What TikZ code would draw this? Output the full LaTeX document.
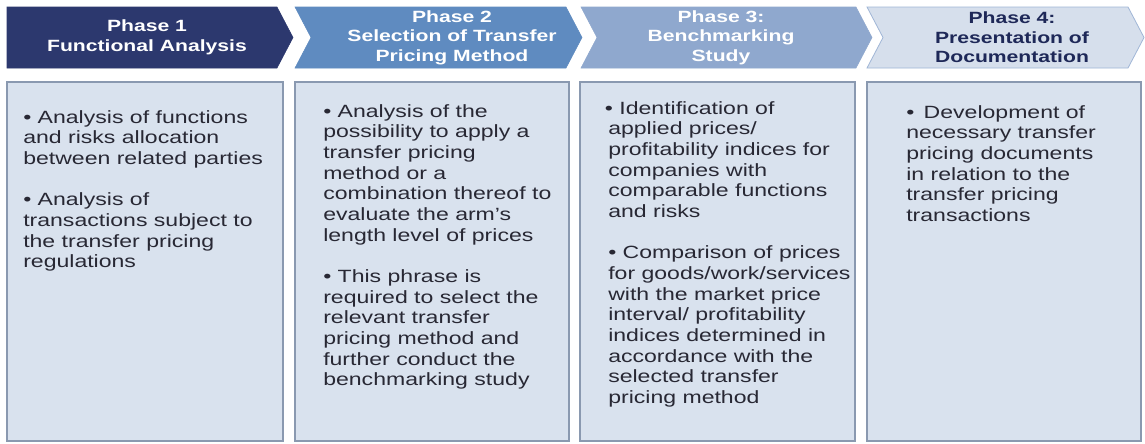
\documentclass[tikz,border=0pt]{standalone}
\usepackage{fontspec}
\setmainfont[FakeStretch=1.3]{Liberation Sans}
\usetikzlibrary{calc}
\definecolor{phaseA}{RGB}{44,56,110}
\definecolor{phaseB}{RGB}{95,139,192}
\definecolor{phaseC}{RGB}{143,168,206}
\definecolor{phaseD}{RGB}{214,223,236}
\definecolor{phaseDline}{RGB}{160,182,214}
\definecolor{boxfill}{RGB}{217,226,238}
\definecolor{boxline}{RGB}{138,153,176}
\definecolor{boxtext}{RGB}{40,40,52}
\definecolor{navytext}{RGB}{30,40,88}
\def\chevron[#1](#2:#3:#4){\filldraw[#1] (#2, 7) -- (#3, 7) -- (#3+16, 37.5) -- (#3, 68) -- (#2, 68) -- (#2+#4, 37.5) -- cycle;}
\tikzset{
	phasetext/.style={align=center, inner sep=0pt, font={\bfseries\fontsize{12.2}{14.6}\selectfont}},
	bullettext/.style={anchor=north west, align=left, inner sep=0pt, text=boxtext, font={\fontsize{13.3}{15.5}\selectfont}},
	phasebox/.style={fill=boxfill, draw=boxline, line width=0.8pt}
}

\begin{document}
\begin{tikzpicture}[x=0.75pt, y=-0.75pt]
			%%%%% START %%%%%
			
			\fill[white] (0, 0) rectangle (1145, 443);
			\useasboundingbox (0, 0) rectangle (1145, 443);
			
			\chevron[fill=phaseA, draw=phaseA](7:277:0)
			\chevron[fill=phaseB, draw=phaseB](295:566:16)
			\chevron[fill=phaseC, draw=phaseC](581:856:16)
			\chevron[fill=phaseD, draw=phaseDline, line width=0.6pt](867:1128:16)
			
			\node[phasetext, text=white] (ph1) at (147, 37.5) {Phase 1\\Functional Analysis};
			\node[phasetext, text=white] (ph2) at (452, 37.5) {Phase 2\\Selection of Transfer\\Pricing Method};
			\node[phasetext, text=white] (ph3) at (721, 37.5) {Phase 3:\\Benchmarking\\Study};
			\node[phasetext, text=navytext] (ph4) at (1012, 37.5) {Phase 4:\\Presentation of\\Documentation};
			
			\draw[phasebox] (7, 82) rectangle (283, 441);
			\draw[phasebox] (295, 82) rectangle (569, 441);
			\draw[phasebox] (580, 82) rectangle (855, 441);
			\draw[phasebox] (867, 82) rectangle (1141, 441);
			
			\node[bullettext] (list1) at (23, 110) {• Analysis of functions\\and risks allocation\\between related parties\\[15.5pt]• Analysis of\\transactions subject to\\the transfer pricing\\regulations};
			\node[bullettext] (list2) at (323, 104) {• Analysis of the\\possibility to apply a\\transfer pricing\\method or a\\combination thereof to\\evaluate the arm’s\\length level of prices\\[15.5pt]• This phrase is\\required to select the\\relevant transfer\\pricing method and\\further conduct the\\benchmarking study};
			\node[bullettext] (list3) at (608, 101) {\hspace*{-2.5pt}• Identification of\\applied prices/\\profitability indices for\\companies with\\comparable functions\\and risks\\[15.5pt]• Comparison of prices\\for goods/work/services\\with the market price\\interval/ profitability\\indices determined in\\accordance with the\\selected transfer\\pricing method};
			\node[bullettext] (list4) at (906, 105) {•\, Development of\\necessary transfer\\pricing documents\\in relation to the\\transfer pricing\\transactions};
			
			%%%%% END %%%%%
\end{tikzpicture}
\end{document}
